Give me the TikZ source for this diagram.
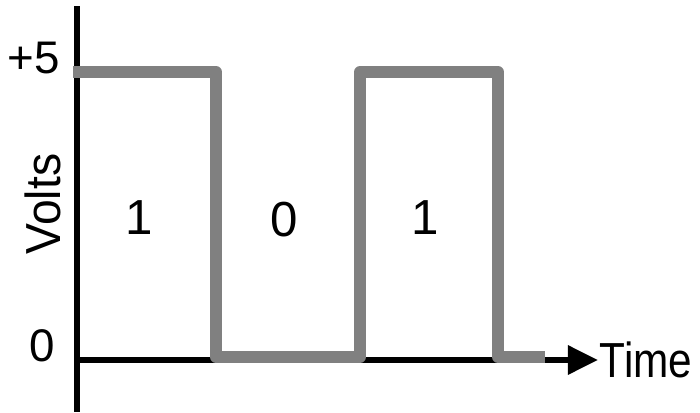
\documentclass[tikz,border=0pt]{standalone}
\usepackage{fontspec}
\usepackage{graphicx}
\setmainfont{Liberation Sans}
\usetikzlibrary{arrows.meta}
\definecolor{ink}{HTML}{000000}
\definecolor{signalgray}{HTML}{808080}
\newcommand{\squeezed}[2]{\scalebox{#1}[1]{#2}}
\tikzset{
  axis/.style={draw=ink, line width=1.7pt},
  signal/.style={draw=signalgray, line width=3.4pt, line join=round, line cap=butt},
  timearrow/.style={-{Triangle[length=0.3cm, width=0.28cm]}},
  lbl/.style={inner sep=0pt, font=\fontsize{14}{16}\selectfont, text=ink},
  tick/.style={inner sep=0pt, font=\fontsize{13}{15}\selectfont, text=ink}
}
\begin{document}
\begin{tikzpicture}[x=0.01cm, y=-0.01cm]
  \useasboundingbox (0,0) rectangle (700,412);
  % axes
  \coordinate (ytop) at (77,6);
  \coordinate (ybot) at (77,412);
  \coordinate (origin) at (77,360);
  \coordinate (xend) at (598,360);
  \draw[axis] (ytop) -- (ybot);
  \draw[axis, timearrow] (origin) -- (xend);
  \node[lbl, anchor=west] (time) at (599,360) {\squeezed{0.86}{Time}};
  \node[lbl, rotate=90] (volts) at (43,204) {\squeezed{0.94}{Volts}};
  \node[tick] (high) at (34,58) {+5};
  \node[tick] (low) at (42,346) {0};
  % signal
  \draw[signal] (73,72) -- (216,72) -- (216,357) -- (360,357) -- (360,72)
    -- (498,72) -- (498,357) -- (545,357);
  % bits
  \node[lbl] (bita) at (139,218) {1};
  \node[lbl] (bitb) at (284,220) {0};
  \node[lbl] (bitc) at (425,218) {1};
\end{tikzpicture}
\end{document}
